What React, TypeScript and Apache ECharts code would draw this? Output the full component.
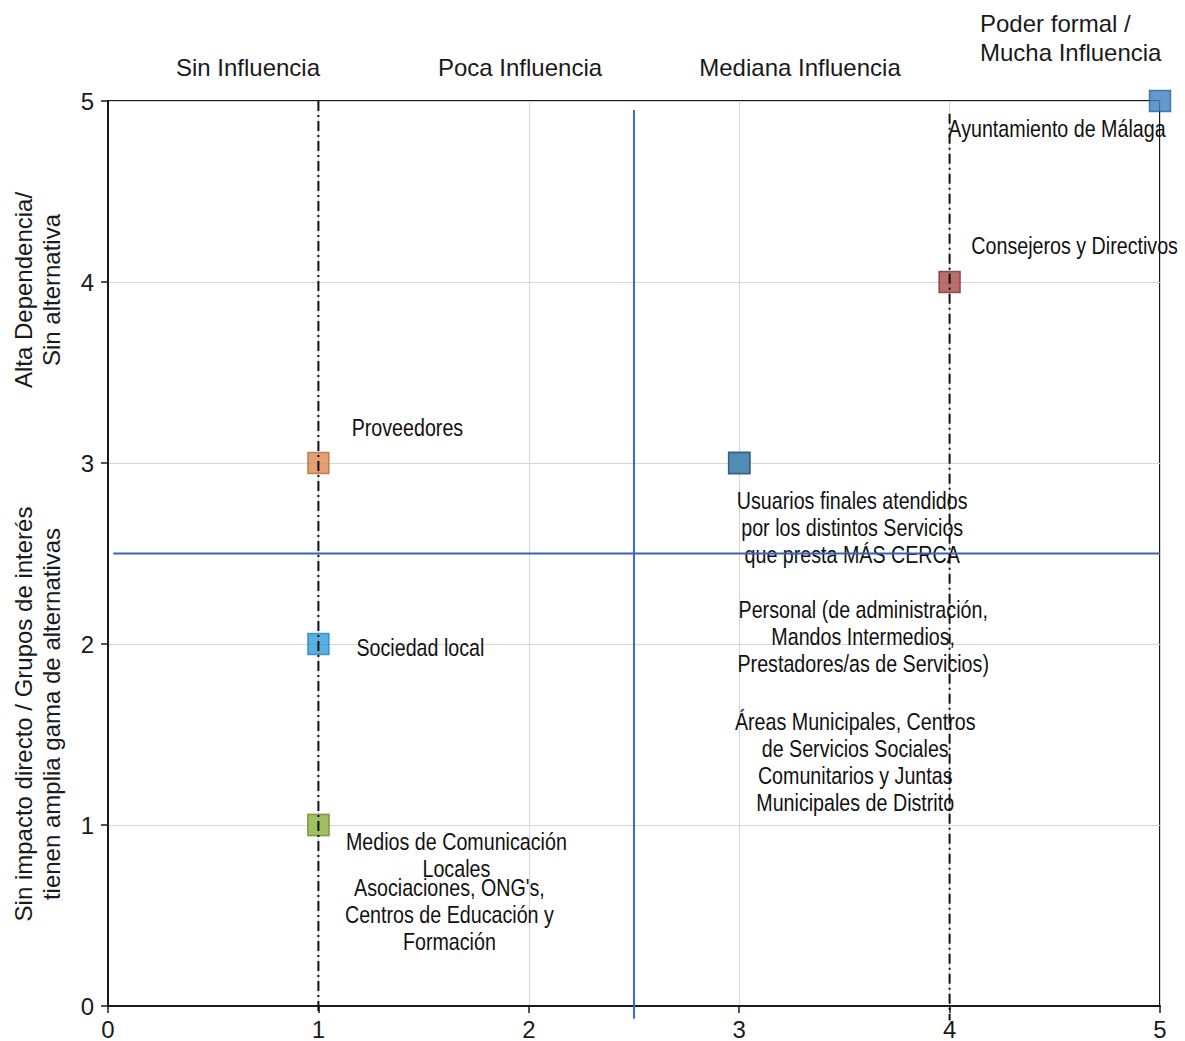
import React, { useEffect, useRef } from "react";
import * as echarts from "echarts";

// ---------------- DATA ----------------
const stakeholderNames = [
  "Personal (de administración,\nMandos Intermedios,\nPrestadores/as de Servicios)",
  "Áreas Municipales, Centros\nde Servicios Sociales\nComunitarios y Juntas\nMunicipales de Distrito",
  "Asociaciones, ONG's,\nCentros de Educación y\nFormación",
  "Ayuntamiento de Málaga",
  "Consejeros y Directivos",
  "Proveedores",
  "Usuarios finales atendidos\npor los distintos Servicios\nque presta MÁS CERCA",
  "Sociedad local",
  "Medios de Comunicación\nLocales",
];
const influenceValues = [3, 3, 1, 5, 4, 1, 3, 1, 1];
const dependenceValues = [3, 3, 1, 5, 4, 3, 3, 2, 1];

const xTickLabels = ["0", "1", "2", "3", "4", "5"];
const yTickLabels = ["0", "1", "2", "3", "4", "5"];

const influenceLevels = ["Sin Influencia", "Poca Influencia", "Mediana Influencia", "Poder formal /\nMucha Influencia"];
const dependenceTitles = [
  "Alta Dependencia/\nSin alternativa",
  "Sin impacto directo / Grupos de interés\ntienen amplia gama de alternativas",
];

// quadrant dividers (data units)
const quadrantVertical = [[2.5, 4.95], [2.5, -0.07]];
const quadrantHorizontal = [[0.025, 2.5], [5, 2.5]];
// dash-dot guides
const guideLow = [[1, 5], [1, -0.05]];
const guideHigh = [[4, 4.93], [4, -0.08]];

// ---------------- STYLES ----------------
const markerColors: [string, string][] = [
  ["#4f8db5", "#3a5a82"],
  ["#4f8db5", "#3a5a82"],
  ["#9dbd5c", "#7c9a42"],
  ["#3f80c0", "#2d5f92"],
  ["#a94a4a", "#7a3232"],
  ["#da8a4f", "#b56c3a"],
  ["#4f8db5", "#3a5a82"],
  ["#2f9bd8", "#2382c2"],
  ["#9dbd5c", "#7c9a42"],
];
const labelOffsets: [number, number][] = [
  [124, 174],
  [116, 299],
  [131, 90],
  [-103, 28],
  [125, -36],
  [89, -35],
  [113, 65],
  [102, 4],
  [138, 30],
];

const SANS = "'Liberation Sans', Arial, Helvetica, sans-serif";

export default function App() {
  const ref = useRef<HTMLDivElement>(null);

  useEffect(() => {
    if (!ref.current) return;
    const chart = echarts.init(ref.current, undefined, { renderer: "svg" });

    const pointData = stakeholderNames.map((name, i) => ({
      name,
      value: [influenceValues[i], dependenceValues[i]],
      itemStyle: { color: markerColors[i][0], borderColor: markerColors[i][1], borderWidth: 1.5 },
    }));

    const lineSeries = (data: number[][], color: string, type: any, width: number) => ({
      type: "line",
      data,
      showSymbol: false,
      symbol: "none",
      clip: false,
      silent: true,
      z: 5,
      lineStyle: { color, width, type },
    });

    const topLabelStyle = [
      { x: 248, y: 67, align: "center" },
      { x: 520, y: 67, align: "center" },
      { x: 800, y: 67, align: "center" },
      { x: 980, y: 38, align: "left" },
    ];

    chart.setOption({
      animation: false,
      backgroundColor: "#ffffff",
      grid: {
        left: 108,
        right: 25,
        top: 101,
        bottom: 35,
        show: true,
        borderColor: "#1a1a1a",
        borderWidth: 2,
        backgroundColor: "transparent",
      },
      xAxis: {
        type: "value",
        min: 0,
        max: 5,
        interval: 1,
        axisLine: { show: true, lineStyle: { color: "#1a1a1a", width: 2 } },
        axisTick: { show: true, length: 7, lineStyle: { color: "#1a1a1a", width: 1.5 } },
        splitLine: { show: true, lineStyle: { color: "#d6d6d6", width: 1 } },
        axisLabel: {
          formatter: (v: number) => xTickLabels[Math.round(v)] ?? "",
          fontFamily: SANS,
          fontSize: 24,
          color: "#1a1a1a",
          margin: 11,
        },
      },
      yAxis: {
        type: "value",
        min: 0,
        max: 5,
        interval: 1,
        axisLine: { show: true, lineStyle: { color: "#1a1a1a", width: 2 } },
        axisTick: { show: true, length: 7, lineStyle: { color: "#1a1a1a", width: 1.5 } },
        splitLine: { show: true, lineStyle: { color: "#d6d6d6", width: 1 } },
        axisLabel: {
          formatter: (v: number) => yTickLabels[Math.round(v)] ?? "",
          fontFamily: SANS,
          fontSize: 24,
          color: "#1a1a1a",
          margin: 14,
        },
      },
      graphic: [
        ...influenceLevels.map((t, i) => ({
          type: "text",
          x: topLabelStyle[i].x,
          y: topLabelStyle[i].y,
          style: {
            text: t,
            fontFamily: SANS,
            fontSize: 24,
            lineHeight: 29,
            fill: "#1a1a1a",
            align: topLabelStyle[i].align,
            verticalAlign: "middle",
          },
        })),
        ...dependenceTitles.map((t, i) => ({
          type: "text",
          x: 37,
          y: i === 0 ? 290 : 714,
          rotation: Math.PI / 2,
          style: {
            text: t,
            fontFamily: SANS,
            fontSize: 24,
            lineHeight: 28,
            fill: "#1a1a1a",
            align: "center",
            verticalAlign: "middle",
          },
        })),
      ],
      series: [
        {
          type: "scatter",
          symbol: "rect",
          symbolSize: 21,
          z: 3,
          data: pointData,
        },
        {
          type: "custom",
          z: 2,
          silent: true,
          clip: false,
          data: pointData.map((d) => d.value),
          renderItem: (params: any, api: any) => {
            const i = params.dataIndex;
            const p = api.coord([api.value(0), api.value(1)]);
            const [dx, dy] = labelOffsets[i];
            return {
              type: "text",
              x: p[0] + dx,
              y: p[1] + dy,
              scaleX: 0.82,
              style: {
                text: stakeholderNames[i],
                fontFamily: SANS,
                fontSize: 24,
                lineHeight: 27,
                fill: "#111111",
                align: "center",
                verticalAlign: "middle",
              },
            };
          },
        },
        lineSeries(quadrantVertical, "#2f6fd6", "solid", 2),
        lineSeries(quadrantHorizontal, "#3a63b0", "solid", 2),
        lineSeries(guideLow, "#111111", [10, 4, 2, 4], 2),
        lineSeries(guideHigh, "#111111", [10, 4, 2, 4], 2),
      ],
    });

    return () => chart.dispose();
  }, []);

  return (
    <div
      ref={ref}
      style={{ position: "fixed", left: 0, top: 0, width: 1185, height: 1041, background: "#fff" }}
    />
  );
}
